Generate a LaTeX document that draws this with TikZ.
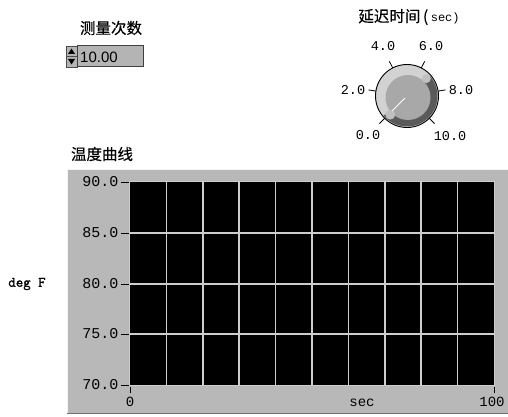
\documentclass[tikz,border=0pt]{standalone}
\usepackage{fontspec}
\newfontfamily\cjk[FakeBold=0.3]{Noto Sans CJK SC}
\newfontfamily\mono{Liberation Mono}
\newfontfamily\lsans{Liberation Sans}
\newfontfamily\degfont[FakeBold=1.2]{Latin Modern Mono}
\definecolor{panelgray}{RGB}{184,184,184}
\definecolor{gridgray}{RGB}{205,205,205}
\definecolor{knoblight}{RGB}{210,210,210}
\definecolor{knobmid}{RGB}{168,168,168}
\definecolor{knobdark}{RGB}{90,90,90}
\definecolor{knobdot}{RGB}{192,192,192}
\definecolor{boxgray}{RGB}{180,180,180}
\tikzset{
  cjklabel/.style={inner sep=0pt, font=\cjk\fontsize{15.5}{16}\selectfont},
  ylab/.style={anchor=east, inner sep=0pt, font=\mono\fontsize{15}{15}\selectfont},
  xlab/.style={anchor=center, inner sep=0pt, font=\mono\fontsize{14}{14}\selectfont},
  knoblab/.style={inner sep=0pt, font=\mono\fontsize{13.5}{13.5}\selectfont},
  gridline/.style={draw=gridgray, line width=1.5pt},
  tickline/.style={draw=black, line width=0.8pt},
}
\begin{document}
\begin{tikzpicture}[x=1pt,y=-1pt]
\useasboundingbox (0,0) rectangle (508,417);
\fill[white] (0,0) rectangle (508,417);

% ---------- numeric control ----------
\node[cjklabel] (numtitle) at (111,28) {测量次数};
\node[draw=black!70, fill=boxgray, line width=0.8pt, minimum width=11pt, minimum height=21pt, inner sep=0pt] (spin) at (71.5,56.5) {};
\fill[black] (68,54) -- (75,54) -- (71.5,48.5) -- cycle;
\fill[black] (68,59) -- (75,59) -- (71.5,64.5) -- cycle;
\draw[black!70, line width=0.6pt] (66,56.5) -- (77,56.5);
\node[draw=black!75, fill=boxgray, line width=1pt, minimum width=66pt, minimum height=21pt, inner sep=0pt] (numbox) at (110,56.5) {};
\node[anchor=west, inner sep=0pt, font=\lsans\fontsize{15}{15}\selectfont] (numval) at (80,57) {10.00};

% ---------- knob ----------
\node[inner sep=0pt] (knobtitle) at (409,17) {\cjk\fontsize{15.5}{16}\selectfont 延迟时间\,(\,\mono\fontsize{12}{12}\selectfont sec)};
\coordinate (kc) at (407,96);
\begin{scope}[shift={(kc)}, yscale=-1]
  \fill[knoblight] (0,0) circle[radius=31.5];
  \fill[knobdark] (40:30.5) arc[start angle=40, end angle=-140, radius=30.5] -- (-140:22) arc[start angle=-140, end angle=40, radius=22] -- cycle;
  \fill[knobmid] (1,-1.5) circle[radius=22.5];
  \fill[knobdot] (42:26) circle[radius=4.5];
  \fill[knobdot] (228:25) circle[radius=5];
  \draw[black, line width=0.9pt] (0,0) circle[radius=31.5];
  \draw[white, line width=0.9pt] (225:3) -- (225:21);
  \foreach \a in {225,171,117,63,9,-45} {
    \draw[tickline] (\a:31.5) -- (\a:39);
  }
\end{scope}
\node[knoblab] (k0) at (368,135) {0.0};
\node[knoblab] (k2) at (353,90) {2.0};
\node[knoblab] (k4) at (383,46) {4.0};
\node[knoblab] (k6) at (431,46) {6.0};
\node[knoblab] (k8) at (461,90) {8.0};
\node[knoblab] (k10) at (450,136) {10.0};

% ---------- chart ----------
\node[cjklabel] (charttitle) at (102,154) {温度曲线};
\node[inner sep=0pt, font=\degfont\fontsize{14.5}{14.5}\selectfont] (ylabel) at (27,284) {deg F};
\fill[panelgray] (67,169) rectangle (508,413);
\draw[white!85!panelgray, line width=1pt] (67,413) -- (67,169) -- (508,169);
\draw[black!55, line width=1.2pt] (67,413.5) -- (508,413.5);
\fill[black] (130,182) rectangle (494,385);
\draw[gridgray, line width=1pt] (129.5,181.5) rectangle (494.5,385.5);
\foreach \i in {1,...,9} {
  \draw[gridline] (130+36.4*\i,182) -- (130+36.4*\i,385);
}
\foreach \y in {233,284,334} {
  \draw[gridline] (130,\y) -- (494,\y);
}
\foreach \y/\t in {182/90.0,233/85.0,284/80.0,334/75.0,385/70.0} {
  \draw[tickline] (121,\y) -- (129,\y);
  \node[ylab] at (118.5,\y) {\t};
}
\draw[tickline] (130,387) -- (130,393);
\draw[tickline] (494,387) -- (494,393);
\node[xlab] (x0) at (130,402) {0};
\node[xlab] (x100) at (492,402) {100};
\node[xlab] (xsec) at (362,403) {sec};
\end{tikzpicture}
\end{document}
